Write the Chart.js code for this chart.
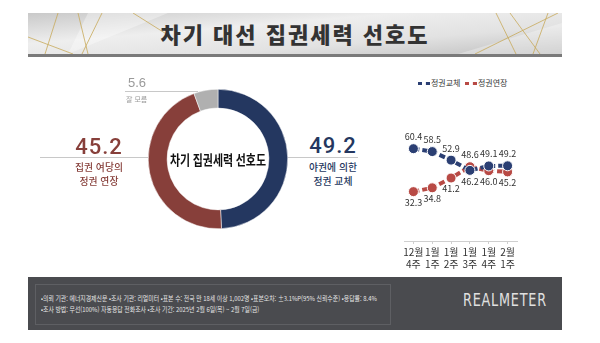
<!DOCTYPE html>
<html lang="ko">
<head>
<meta charset="utf-8">
<script src="https://cdn.jsdelivr.net/npm/chart.js"></script>
<style>
  html, body { margin: 0; padding: 0; background: #fff; }
  body { width: 600px; height: 343px; position: relative; overflow: hidden; font-family: 'Noto Sans CJK KR', 'Noto Sans', sans-serif; }
  .abs { position: absolute; }
  #banner { left: 28px; top: 13px; width: 534px; height: 44px; }
  #title { left: 28px; top: 13px; width: 534px; height: 41px; line-height: 41px; text-align: center; font-size: 22px; font-weight: 900; color: #333; letter-spacing: 2px; }
  #donutBox { left: 148px; top: 89px; width: 140px; height: 140px; }
  #lineBox { left: 395px; top: 120px; width: 131px; height: 152px; }
  .rule { height: 1px; background: #c8c8c8; }
  .big { font-family: 'Roboto', 'Liberation Sans', Arial, sans-serif; font-weight: 500; font-size: 22px; line-height: 25px; letter-spacing: 1px; }
  .sub { font-size: 9.8px; font-weight: 500; line-height: 14px; text-align: center; white-space: nowrap; }
  #legend { left: 418px; top: 77px; font-size: 8px; color: #333; white-space: nowrap; }
  #legend span.dot { display: inline-block; width: 12px; border-top: 3px dotted; vertical-align: middle; margin-right: 1px; }
  #footer { left: 28px; top: 277px; width: 534px; height: 53px; background: #4a4b4f; }
  #footBox { left: 35px; top: 284px; width: 354px; height: 39px; border: 1px solid #5e5f63; }
  #footText { left: 41px; top: 293px; font-size: 6.6px; line-height: 11px; color: #e6e6e6; white-space: nowrap; transform: scaleX(0.89); transform-origin: left top; }
  #logo { left: 463px; top: 290px; font-family: 'Liberation Sans Narrow', 'DejaVu Sans Condensed', sans-serif; font-size: 18px; line-height: 20px; color: #e0e0e0; letter-spacing: 1px; transform: scaleX(0.79); transform-origin: left top; }
</style>
</head>
<body>
<svg id="banner" class="abs" viewBox="0 0 534 44" width="534" height="44">
  <defs>
    <linearGradient id="bg" x1="0" y1="0" x2="1" y2="1">
      <stop offset="0" stop-color="#c9c9c9"/>
      <stop offset="0.35" stop-color="#eeeeee"/>
      <stop offset="0.65" stop-color="#e2e2e2"/>
      <stop offset="1" stop-color="#bcbcbc"/>
    </linearGradient>
  </defs>
  <rect x="0" y="0" width="534" height="44" fill="url(#bg)"/>
  <polygon points="60,0 140,0 40,41" fill="#ffffff" opacity="0.35"/>
  <polygon points="430,41 534,10 534,41" fill="#ffffff" opacity="0.3"/>
  <g stroke="#c8a95a" stroke-width="0.8" fill="none">
    <line x1="30" y1="0" x2="17" y2="41"/>
    <line x1="50" y1="0" x2="60" y2="41"/>
    <line x1="74" y1="0" x2="54" y2="41"/>
    <line x1="0" y1="24" x2="45" y2="41"/>
    <line x1="105" y1="0" x2="140" y2="22"/>
    <line x1="482" y1="0" x2="512" y2="41"/>
    <line x1="447" y1="41" x2="530" y2="0"/>
    <line x1="520" y1="0" x2="505" y2="41"/>
    <line x1="468" y1="0" x2="488" y2="41"/>
  </g>
  <rect x="0" y="41" width="534" height="3" fill="#7a7a7a"/>
</svg>
<div id="title" class="abs">차기 대선 집권세력 선호도</div>

<div id="donutBox" class="abs"><canvas id="donut"></canvas></div>
<div id="donutNotes"></div>

<div id="legend" class="abs"></div>
<div id="lineBox" class="abs"><canvas id="trend"></canvas></div>

<div id="footer" class="abs"></div>
<div id="footBox" class="abs"></div>
<div id="footText" class="abs">•의뢰 기관: 에너지경제신문 •조사 기관: 리얼미터 •표본 수: 전국 만 18세 이상 1,002명 •표본오차: ±3.1%P(95% 신뢰수준) •응답률: 8.4%<br>•조사 방법: 무선(100%) 자동응답 전화조사 •조사 기간: 2025년 2월 6일(목) ~ 2월 7일(금)</div>
<div id="logo" class="abs">REALMETER</div>

<script>
// 도넛 (집권세력 선호도)
const donutTitle = '차기 집권세력 선호도';
const donutLabels = [['야권에 의한', '정권 교체'], ['집권 여당의', '정권 연장'], ['잘 모름']];
const donutValues = [49.2, 45.2, 5.6];
const donutColors = ['#243760', '#873f3a', '#b0b0b0'];

// 추이 (주간)
const weeks = [['12월', '4주'], ['1월', '1주'], ['1월', '2주'], ['1월', '3주'], ['1월', '4주'], ['2월', '1주']];
const seriesNames = ['정권교체', '정권연장'];
const changeVals = [60.4, 58.5, 52.9, 46.2, 49.1, 49.2];
const extendVals = [32.3, 34.8, 41.2, 48.6, 46.0, 45.2];
const lineColors = ['#2b3f73', '#b84a45'];

const KR = "'Noto Sans CJK KR', sans-serif";

// 도넛 옆 숫자/설명
(function () {
  const notes = document.getElementById('donutNotes');
  const spots = [
    { left: 300, top: 133, w: 66, rule: [288, 157, 70], color: donutColors[0], big: true },
    { left: 66, top: 134, w: 66, rule: [40, 157, 108], color: donutColors[1], big: true },
    { left: 126, top: 76, w: 30, rule: [125, 91, 73], color: '#9a9a9a', big: false }
  ];
  donutValues.forEach(function (v, i) {
    const s = spots[i];
    const r = document.createElement('div');
    r.className = 'abs rule';
    r.style.left = s.rule[0] + 'px'; r.style.top = s.rule[1] + 'px'; r.style.width = s.rule[2] + 'px';
    notes.appendChild(r);
    const num = document.createElement('div');
    num.className = 'abs';
    num.textContent = v.toFixed(1);
    num.style.color = s.color;
    if (s.big) {
      num.className += ' big';
      num.style.left = s.left + 'px'; num.style.top = s.top + 'px'; num.style.width = s.w + 'px';
      num.style.textAlign = 'center';
    } else {
      num.style.left = '128px'; num.style.top = '75px';
      num.style.fontFamily = "'Liberation Sans', sans-serif";
      num.style.fontSize = '13px'; num.style.lineHeight = '15px';
    }
    notes.appendChild(num);
    donutLabels[i].forEach(function (line, k) {
      const sub = document.createElement('div');
      sub.className = 'abs';
      sub.textContent = line;
      sub.style.color = s.color;
      if (s.big) {
        sub.className += ' sub';
        sub.style.left = s.left + 'px'; sub.style.top = (160 + k * 14) + 'px'; sub.style.width = s.w + 'px';
      } else {
        sub.style.left = '126px'; sub.style.top = '94px';
        sub.style.fontSize = '7px'; sub.style.lineHeight = '11px';
      }
      notes.appendChild(sub);
    });
  });
})();

// 범례
document.getElementById('legend').innerHTML = seriesNames.map(function (n, i) {
  return '<span class="dot" style="border-color:' + lineColors[i] + '"></span>' + n;
}).join('&nbsp;&nbsp;');

const centerText = {
  id: 'centerText',
  afterDraw(chart) {
    const { ctx, chartArea } = chart;
    const cx = (chartArea.left + chartArea.right) / 2;
    const cy = (chartArea.top + chartArea.bottom) / 2;
    ctx.save();
    ctx.font = 'bold 14px ' + KR;
    ctx.fillStyle = '#111';
    ctx.textAlign = 'center';
    ctx.textBaseline = 'middle';
    const w = ctx.measureText(donutTitle).width;
    const k = 96 / w;
    ctx.translate(cx, cy + 1);
    ctx.scale(k, 1);
    ctx.fillText(donutTitle, 0, 0);
    ctx.restore();
  }
};

new Chart(document.getElementById('donut'), {
  type: 'doughnut',
  data: {
    labels: donutLabels.map(l => l.join(' ')),
    datasets: [{
      data: donutValues,
      backgroundColor: donutColors,
      borderColor: '#fff',
      borderWidth: 0.5
    }]
  },
  options: {
    responsive: true,
    maintainAspectRatio: false,
    animation: false,
    cutout: '73%',
    layout: { padding: 0 },
    plugins: { legend: { display: false }, tooltip: { enabled: false } }
  },
  plugins: [centerText]
});

// 꺾은선 값 표시: 높은 쪽은 위, 낮은 쪽은 아래
const pointValues = {
  id: 'pointValues',
  afterDatasetsDraw(chart) {
    const { ctx } = chart;
    const sets = chart.data.datasets;
    ctx.save();
    ctx.font = '9px ' + KR;
    ctx.fillStyle = '#333';
    ctx.textAlign = 'center';
    ctx.textBaseline = 'middle';
    sets.forEach(function (ds, di) {
      const meta = chart.getDatasetMeta(di);
      meta.data.forEach(function (pt, i) {
        const other = sets[1 - di].data[i];
        const above = ds.data[i] >= other;
        ctx.fillText(ds.data[i].toFixed(1), pt.x, above ? pt.y - 12 : pt.y + 11);
      });
    });
    ctx.restore();
  }
};

new Chart(document.getElementById('trend'), {
  type: 'line',
  data: {
    labels: weeks,
    datasets: [changeVals, extendVals].map(function (vals, i) {
      return {
        label: seriesNames[i],
        data: vals,
        borderColor: lineColors[i],
        backgroundColor: lineColors[i],
        borderWidth: 4,
        borderDash: [6, 3],
        pointRadius: 5,
        pointBorderColor: '#fff',
        pointBorderWidth: 1,
        tension: 0
      };
    })
  },
  options: {
    responsive: true,
    maintainAspectRatio: false,
    animation: false,
    layout: { padding: { left: 9, right: 9, top: 14, bottom: 0 } },
    scales: {
      x: {
        offset: true,
        grid: { drawOnChartArea: false, drawTicks: true, tickLength: 3, color: '#cfcfcf' },
        border: { display: true, color: '#cfcfcf' },
        ticks: { color: '#333', font: { size: 10, family: KR, lineHeight: 1.2 }, padding: 2, maxRotation: 0, autoSkip: false }
      },
      y: { display: false, min: 0, max: 70 }
    },
    plugins: { legend: { display: false }, tooltip: { enabled: false } }
  },
  plugins: [pointValues]
});
</script>
</body>
</html>
